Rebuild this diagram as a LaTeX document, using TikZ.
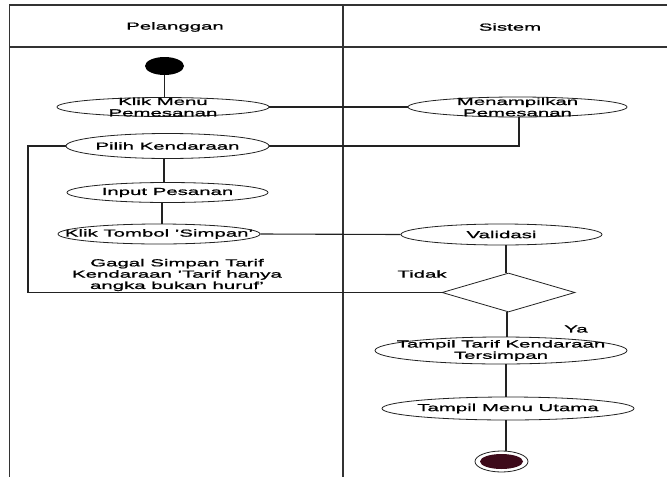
\documentclass[tikz,border=0pt]{standalone}
\usepackage{fontspec}
\setmainfont{Liberation Sans}[FakeStretch=2, FakeBold=1.2]
\usetikzlibrary{shapes.geometric}
\definecolor{lane}{HTML}{333333}
\definecolor{edge}{HTML}{222222}
\definecolor{endfill}{HTML}{3D0A1A}
\begin{document}
\begin{tikzpicture}[x=1pt,y=-1pt,
  every node/.style={font=\fontsize{10.2}{11.3}\selectfont, text=black},
  lanes/.style={line width=1.3pt, draw=lane},
  act/.style={ellipse, draw=edge, line width=0.8pt, inner sep=0pt},
  lbl/.style={align=center, inner sep=0pt},
  flow/.style={draw=edge, line width=1.1pt}]
\useasboundingbox[fill=white] (0,0) rectangle (667,477);

% swimlane frame
\draw[lanes] (667,5) -- (9.5,5) -- (9.5,477);
\draw[lanes] (9.5,47) -- (667,47);
\draw[lanes] (343,5) -- (343,477);
\node[lbl] (hdrA) at (175,27) {Pelanggan};
\node[lbl] (hdrB) at (510,27) {Sistem};

% start
\node[ellipse, fill=black, inner sep=0pt, minimum width=39, minimum height=18] (start) at (164.5,66) {};

% activities
\node[act, minimum width=212, minimum height=19] (klik) at (163,107) {};
\node[lbl] (klikT) at (klik.center) {Klik Menu\\Pemesanan};
\node[act, minimum width=219, minimum height=20] (tampil) at (517.5,107) {};
\node[lbl] (tampilT) at (tampil.center) {Menampilkan\\Pemesanan};
\node[act, minimum width=203, minimum height=25] (pilih) at (167.5,146) {};
\node[lbl] (pilihT) at (pilih.center) {Pilih Kendaraan};
\node[act, minimum width=201, minimum height=20] (input) at (167.5,192.5) {};
\node[lbl] (inputT) at (input.center) {Input Pesanan};
\node[act, minimum width=202, minimum height=20] (tombol) at (159,234) {};
\node[lbl] (tombolT) at (tombol.center) {Klik Tombol 'Simpan'};
\node[act, minimum width=201, minimum height=21] (valid) at (501.5,234.5) {};
\node[lbl] (validT) at (valid.center) {Validasi};
\node[diamond, draw=edge, line width=0.8pt, inner sep=0pt, aspect=3.4,
      minimum width=133, minimum height=39] (dec) at (508.5,292.5) {};
\node[act, minimum width=252, minimum height=27] (tarif) at (501,350.5) {};
\node[lbl] (tarifT) at (tarif.center) {Tampil Tarif Kendaraan\\Tersimpan};
\node[act, minimum width=252, minimum height=23] (menu) at (508,408.5) {};
\node[lbl] (menuT) at (menu.center) {Tampil Menu Utama};

% end
\node[ellipse, draw=edge, line width=0.8pt, fill=white, inner sep=0pt,
      minimum width=53, minimum height=21] (stop) at (501.5,461.5) {};
\node[ellipse, fill=endfill, inner sep=0pt, minimum width=43, minimum height=15] (stopIn) at (stop.center) {};

% guard texts
\node[lbl] (gagal) at (177,275) {Gagal Simpan Tarif\\Kendaraan 'Tarif hanya\\angka bukan huruf'};
\node[lbl] (tidak) at (422,274) {Tidak};
\node[lbl] (ya) at (576,329) {Ya};

% flow
\coordinate (loopB) at (28,292.5);
\draw[flow] (start.south) -- (klik.north -| start.south);
\draw[flow] (klik.east) -- (tampil.west);
\draw[flow] (tampil.south -| 519,0) |- (pilih.east);
\draw[flow] (pilih.south -| 164,0) -- (input.north -| 164,0);
\draw[flow] (input.south -| 162,0) -- (tombol.north -| 162,0);
\draw[flow] (tombol.east) -- (valid.west);
\draw[flow] (valid.south -| 506,0) -- (dec.north -| 506,0);
\draw[flow] (dec.west) -- (loopB) |- (pilih.west);
\draw[flow] (dec.south -| 507,0) -- (tarif.north -| 507,0);
\draw[flow] (tarif.south -| 506,0) -- (menu.north -| 506,0);
\draw[flow] (menu.south -| 506,0) -- (stop.north -| 506,0);
\end{tikzpicture}
\end{document}
